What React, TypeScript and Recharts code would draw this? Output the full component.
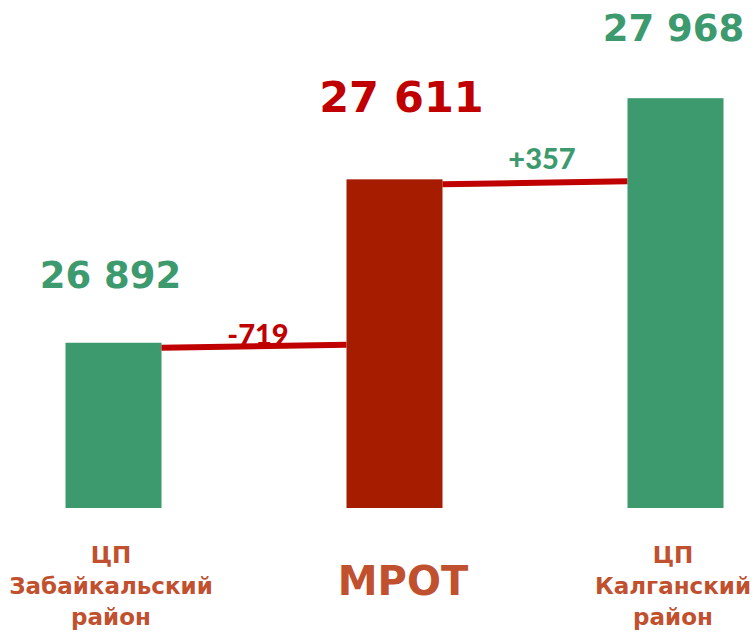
import { BarChart, Bar, XAxis, YAxis, Cell, LabelList } from 'recharts';

// data
const categories = ['ЦП Забайкальский район', 'МРОТ', 'ЦП Калганский район'];
const categoryLines = [['ЦП', 'Забайкальский', 'район'], ['МРОТ'], ['ЦП', 'Калганский', 'район']];
const values = [26892, 27611, 27968];
const deltaLabels = ['-719', '+357'];

// colours
const GREEN = '#3d9a6e';
const BAR_RED = '#a61c00';
const LINE_RED = '#c00000';
const LABEL_BROWN = '#c0502e';

const barColors = [GREEN, BAR_RED, GREEN];
const valueColors = [GREEN, LINE_RED, GREEN];
const deltaColors = [LINE_RED, GREEN];

// label styling / nudges
const valueFontSize = [37, 43, 37];
const valueDx = [-3, 7, -2];
const valueGap = [55, 67, 57];
const deltaDx = [4, 7];
const deltaDy = [2, -10];
const labelDx = [-3, 8, -3];

const BAR_SIZE = 96;
const STEP = 281;
const NUM_FONT = '"DejaVu Sans", sans-serif';

const data = categories.map((name, i) => ({ idx: i, name, value: values[i] }));

const fmt = (v: number) => String(v).replace(/\B(?=(\d{3})+(?!\d))/g, ' ');

const BarWithConnector = (props: any) => {
  const { x, y, width, height, fill } = props;
  const i = props.index ?? props.payload?.idx ?? 0;
  const hasNext = i < deltaLabels.length;
  const x1 = x + width;
  const x2 = x + STEP;
  return (
    <g>
      <rect x={x} y={y} width={width} height={height} fill={fill} />
      {hasNext && (
        <g>
          <line x1={x1} y1={y + 5} x2={x2} y2={y + 2} stroke={LINE_RED} strokeWidth={6} />
          <text
            x={(x1 + x2) / 2 + deltaDx[i]}
            y={y + deltaDy[i]}
            textAnchor="middle"
            fill={deltaColors[i]}
            fontFamily="Lato, sans-serif"
            fontWeight={900}
            fontSize={29}
          >
            {deltaLabels[i]}
          </text>
        </g>
      )}
    </g>
  );
};

const ValueLabel = (props: any) => {
  const vb = props.viewBox ?? props;
  const { x, y, width } = vb;
  let i = props.index;
  if (i === undefined) i = values.indexOf(Number(props.value));
  return (
    <text
      x={x + width / 2 + valueDx[i]}
      y={y - valueGap[i]}
      textAnchor="middle"
      fill={valueColors[i]}
      fontFamily={NUM_FONT}
      fontWeight={700}
      fontSize={valueFontSize[i]}
    >
      {fmt(Number(props.value))}
    </text>
  );
};

const CategoryTick = (props: any) => {
  const { x, y, payload } = props;
  const i = Number(payload.value);
  const lines = categoryLines[i];
  const cx = x + labelDx[i];
  if (lines.length === 1) {
    return (
      <text x={cx} y={y + 87} textAnchor="middle" fill={LABEL_BROWN} fontFamily={NUM_FONT} fontWeight={700} fontSize={40}>
        {lines[0]}
      </text>
    );
  }
  return (
    <text textAnchor="middle" fill={LABEL_BROWN} fontFamily={NUM_FONT} fontWeight={700} fontSize={23}>
      {lines.map((l, k) => (
        <tspan key={k} x={cx} y={y + 55 + k * 31}>
          {l}
        </tspan>
      ))}
    </text>
  );
};

export default function App() {
  return (
    <div style={{ position: 'absolute', left: 0, top: 0, background: '#fff' }}>
      <BarChart width={756} height={632} data={data} margin={{ top: 0, right: 0, bottom: 0, left: 0 }}>
        <XAxis
          type="number"
          dataKey="idx"
          domain={[-0.4057, 2.2847]}
          allowDataOverflow
          ticks={[0, 1, 2]}
          interval={0}
          axisLine={false}
          tickLine={false}
          tickSize={0}
          tickMargin={0}
          height={124}
          tick={<CategoryTick />}
        />
        <YAxis hide domain={[26165, 28400]} allowDataOverflow />
        <Bar dataKey="value" barSize={BAR_SIZE} shape={<BarWithConnector />} isAnimationActive={false}>
          {data.map((d, i) => (
            <Cell key={d.name} fill={barColors[i]} />
          ))}
          <LabelList dataKey="value" content={<ValueLabel />} />
        </Bar>
      </BarChart>
    </div>
  );
}
